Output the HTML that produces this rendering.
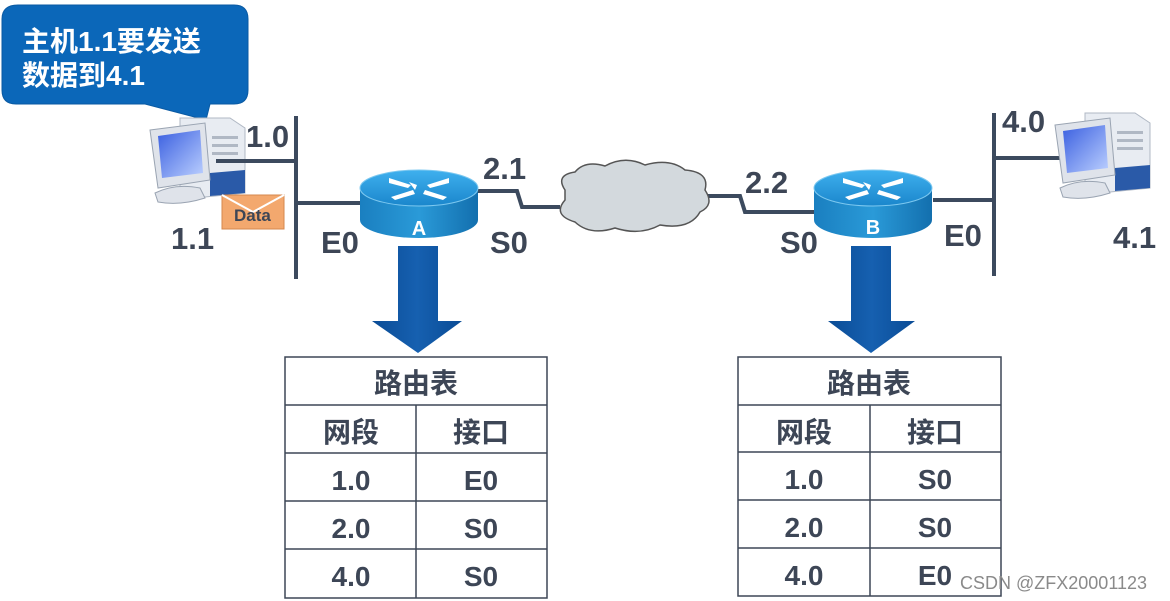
<!DOCTYPE html>
<html><head><meta charset="utf-8"><style>
html,body{margin:0;padding:0;background:#fff;width:1170px;height:601px;overflow:hidden}
svg{display:block}
text{font-family:"Liberation Sans","Noto Sans CJK SC",sans-serif;font-weight:bold}
</style></head><body>
<svg width="1170" height="601" viewBox="0 0 1170 601" xmlns="http://www.w3.org/2000/svg">
<defs>
<linearGradient id="rt" x1="0" y1="0" x2="0" y2="1"><stop offset="0" stop-color="#3fb0ee"/><stop offset="1" stop-color="#1a86cc"/></linearGradient>
<linearGradient id="rb" x1="0" y1="0" x2="1" y2="0"><stop offset="0" stop-color="#1a7fc0"/><stop offset="0.5" stop-color="#2a9ad8"/><stop offset="1" stop-color="#136fae"/></linearGradient>
<linearGradient id="ar" x1="0" y1="0" x2="1" y2="0"><stop offset="0" stop-color="#0a4c96"/><stop offset="0.5" stop-color="#1660b0"/><stop offset="1" stop-color="#0a4c96"/></linearGradient>
<linearGradient id="scr" x1="0" y1="0" x2="1" y2="1"><stop offset="0" stop-color="#3a5fe0"/><stop offset="1" stop-color="#bcd0ff"/></linearGradient>
<g id="router">
<path d="M-59 0 L-59 32 A59 18 0 0 0 59 32 L59 0 Z" fill="url(#rb)"/>
<ellipse cx="0" cy="0" rx="59" ry="18" fill="url(#rt)" stroke="#7cc8f0" stroke-width="1"/>
<g fill="#fff">
<path d="M-30 -10 L-8 -3 L-11 0 L-30 -5 Z"/><path d="M-4 2 L-10 -6 L-2 -3Z"/>
<path d="M30 -10 L8 -3 L11 0 L30 -5Z"/>
<path d="M-28 9 L-6 2 L-4 6 L-24 12Z"/>
<path d="M28 9 L6 2 L4 6 L24 12Z"/>
</g>
</g>
<g id="pc">
<path d="M30 0 L80 0 L95 10 L95 75 L45 80 L30 70Z" fill="#e8ecf2" stroke="#b0b8c4"/>
<rect x="62" y="18" width="26" height="3" fill="#b0b8c4"/><rect x="62" y="26" width="26" height="3" fill="#b0b8c4"/><rect x="62" y="34" width="26" height="3" fill="#b0b8c4"/>
<path d="M60 55 L95 52 L95 75 L60 78Z" fill="#2a5aa8"/>
<path d="M0 12 L55 5 L60 62 L8 70Z" fill="#dfe3ea" stroke="#9aa4b2"/>
<path d="M8 18 L50 12 L53 55 L12 60Z" fill="url(#scr)"/>
<path d="M5 75 Q25 65 50 70 L55 80 Q30 88 8 84Z" fill="#dfe3ea" stroke="#9aa4b2"/>
</g>
</defs>

<path d="M18 5 L234 5 Q248 5 248 19 L248 90 Q248 104 234 104 L210 104 L206 120 L145 104 L16 104 Q2 104 2 90 L2 19 Q2 5 18 5Z" fill="#0b67b9" stroke="#0a5aa3"/>
<text x="22" y="51" font-size="28" fill="#fff">主机1.1要发送</text>
<text x="22" y="85" font-size="28" fill="#fff">数据到4.1</text>

<use href="#pc" transform="translate(150,118)"/>
<rect x="222" y="195" width="62" height="34" fill="#f3a86e" stroke="#d4874e"/>
<path d="M222 195 L253 212 L284 195" fill="none" stroke="#fff" stroke-width="2"/>
<text x="234" y="221" font-size="17" fill="#3d4656">Data</text>

<g stroke="#3c4a5e" stroke-width="4" fill="none">
<line x1="296" y1="116" x2="296" y2="279"/>
<line x1="216" y1="161" x2="296" y2="161"/>
<line x1="296" y1="203" x2="362" y2="203"/>
<polyline points="476,191 517,191 522,207 560,207"/>
<polyline points="708,196 740,196 745,212 818,212"/>
<line x1="994" y1="113" x2="994" y2="276"/>
<line x1="994" y1="158" x2="1060" y2="158"/>
<line x1="933" y1="200" x2="994" y2="200"/>
</g>

<path d="M565 190 Q555 175 575 172 Q585 160 605 166 Q625 155 645 165 Q670 158 685 170 Q710 172 705 190 Q715 205 700 212 Q690 230 660 225 Q640 236 615 228 Q590 236 575 222 Q552 215 565 200Z" fill="#d3d9dd" stroke="#555" stroke-width="1.5"/>

<use href="#router" transform="translate(419,188)"/>
<text x="419" y="235" font-size="20" fill="#fff" text-anchor="middle">A</text>
<use href="#router" transform="translate(873,188)"/>
<text x="873" y="234" font-size="20" fill="#fff" text-anchor="middle">B</text>

<use href="#pc" transform="translate(1055,113)"/>

<g font-size="31" fill="#3d4656">
<text x="246" y="147">1.0</text>
<text x="171" y="249">1.1</text>
<text x="321" y="253">E0</text>
<text x="483" y="179">2.1</text>
<text x="490" y="253">S0</text>
<text x="745" y="193">2.2</text>
<text x="780" y="253">S0</text>
<text x="944" y="246">E0</text>
<text x="1002" y="132">4.0</text>
<text x="1113" y="248">4.1</text>
</g>

<path d="M398 246 L438 246 L438 321 L462 321 L418 353 L372 321 L398 321Z" fill="url(#ar)"/>
<path d="M851 246 L891 246 L891 321 L915 321 L871 353 L828 321 L851 321Z" fill="url(#ar)"/>

<g stroke="#3d4656" stroke-width="1.5" fill="none">
<rect x="285" y="357" width="262" height="241"/>
<line x1="285" y1="405" x2="547" y2="405"/><line x1="285" y1="453" x2="547" y2="453"/>
<line x1="285" y1="501" x2="547" y2="501"/><line x1="285" y1="549" x2="547" y2="549"/>
<line x1="416" y1="405" x2="416" y2="598"/>
<rect x="738" y="357" width="263" height="239"/>
<line x1="738" y1="405" x2="1001" y2="405"/><line x1="738" y1="452" x2="1001" y2="452"/>
<line x1="738" y1="500" x2="1001" y2="500"/><line x1="738" y1="548" x2="1001" y2="548"/>
<line x1="870" y1="405" x2="870" y2="596"/>
</g>
<g font-size="28" fill="#3d4656" text-anchor="middle">
<text x="416" y="393">路由表</text>
<text x="351" y="442">网段</text><text x="481" y="442">接口</text>
<text x="351" y="490">1.0</text><text x="481" y="490">E0</text>
<text x="351" y="538">2.0</text><text x="481" y="538">S0</text>
<text x="351" y="586">4.0</text><text x="481" y="586">S0</text>
<text x="869" y="393">路由表</text>
<text x="804" y="442">网段</text><text x="935" y="442">接口</text>
<text x="804" y="489">1.0</text><text x="935" y="489">S0</text>
<text x="804" y="537">2.0</text><text x="935" y="537">S0</text>
<text x="804" y="585">4.0</text><text x="935" y="585">E0</text>
</g>
<text x="960" y="589" font-size="18" fill="#8a8a8a" style="font-weight:normal">CSDN @ZFX20001123</text>
</svg>
</body></html>
